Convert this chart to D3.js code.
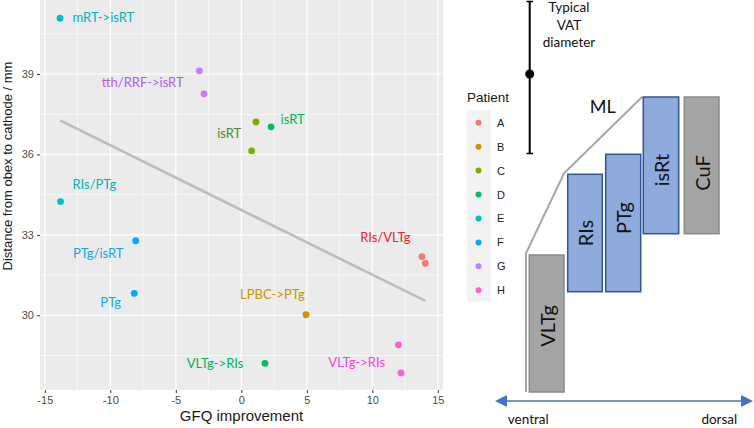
<!DOCTYPE html>
<html><head><meta charset="utf-8">
<script src="https://cdn.jsdelivr.net/npm/d3@7"></script>
<style>
body{margin:0;background:#fff;}
svg{display:block;}
</style></head>
<body>
<svg id="c" width="754" height="428"></svg>
<script>
// ---------- data ----------
const patients = ["A","A","B","C","C","D","D","E","E","F","F","G","G","H","H"];
const gfq      = [13.79,14.05,4.94,1.12,0.79,2.27,1.81,-13.84,-13.8,-8.06,-8.17,-3.2,-2.85,11.99,12.19];
const dist     = [32.19,31.94,30.02,37.21,36.13,37.03,28.21,41.08,34.24,32.78,30.82,39.12,38.26,28.9,27.85];

const labelText    = ["mRT->isRT","tth/RRF->isRT","isRT","isRT","RIs/PTg","PTg/isRT","PTg","VLTg->RIs","LPBC->PTg","RIs/VLTg","VLTg->RIs"];
const labelX       = [-10.53,-7.53,-0.92,3.92,-11.22,-10.92,-9.97,-2.0,2.37,10.99,8.81];
const labelY       = [41.12,38.71,36.81,37.33,34.89,32.34,30.49,28.23,30.81,32.91,28.25];
const labelPatient = ["E","G","C","D","E","F","F","D","B","A","H"];

const legendLevels = ["A","B","C","D","E","F","G","H"];
const xTicks = [-15,-10,-5,0,5,10,15];
const yTicks = [30,33,36,39];

const boxNames = ["VLTg","RIs","PTg","isRt","CuF"];
const vatLines = ["Typical","VAT","diameter"];

// ---------- styles ----------
const pointColor = {A:"#F8766D",B:"#CD9600",C:"#7CAE00",D:"#00BE67",E:"#00BFC4",F:"#00A9FF",G:"#C77CFF",H:"#FF61CC"};
const textColor  = {A:"#EE2228",B:"#C99400",C:"#4E8A2E",D:"#00B45A",E:"#00B3BB",F:"#12A6F0",G:"#B25CF5",H:"#F23FE6"};
const labelFont = "Lato, 'Open Sans', sans-serif";
const axisFont = "'Liberation Sans', Arial, sans-serif";

const svg = d3.select("#c");

// ---------- scatter panel ----------
const P = {l:40, r:443, t:0, b:390};
const x = d3.scaleLinear().domain([-15,15]).range([44.8,437.8]);
const y = d3.scaleLinear().domain([30,39]).range([315.3,74]);
const xMin = x.invert(P.l), xMax = x.invert(P.r);
const yMin = y.invert(P.b), yMax = y.invert(P.t);

svg.append("rect").attr("x",P.l).attr("y",P.t).attr("width",P.r-P.l).attr("height",P.b-P.t).attr("fill","#EBEBEB");

const g = svg.append("g");
// minor grid
const xMinor = d3.range(-17.5,17.6,5).filter(v=>v>xMin&&v<xMax);
const yMinor = d3.range(25.5,43,3).filter(v=>v>yMin&&v<yMax);
g.selectAll(".xm").data(xMinor).join("line").attr("x1",d=>x(d)).attr("x2",d=>x(d)).attr("y1",P.t).attr("y2",P.b).attr("stroke","#fff").attr("stroke-width",0.6);
g.selectAll(".ym").data(yMinor).join("line").attr("y1",d=>y(d)).attr("y2",d=>y(d)).attr("x1",P.l).attr("x2",P.r).attr("stroke","#fff").attr("stroke-width",0.6);
// major grid
g.selectAll(".xM").data(xTicks).join("line").attr("x1",d=>x(d)).attr("x2",d=>x(d)).attr("y1",P.t).attr("y2",P.b).attr("stroke","#fff").attr("stroke-width",1.2);
g.selectAll(".yM").data(yTicks).join("line").attr("y1",d=>y(d)).attr("y2",d=>y(d)).attr("x1",P.l).attr("x2",P.r).attr("stroke","#fff").attr("stroke-width",1.2);

// axes
const xAxis = d3.axisBottom(x).tickValues(xTicks).tickSize(3).tickPadding(3).tickFormat(d=>d<0?"-"+Math.abs(d):d);
const yAxis = d3.axisLeft(y).tickValues(yTicks).tickSize(3).tickPadding(3);
const gx = svg.append("g").attr("transform",`translate(0,${P.b})`).call(xAxis);
const gy = svg.append("g").attr("transform",`translate(${P.l},0)`).call(yAxis);
[gx,gy].forEach(a=>{
  a.select(".domain").remove();
  a.selectAll(".tick line").attr("stroke","#333");
  a.selectAll(".tick text").attr("fill","#4D4D4D").style("font-family",axisFont).style("font-size","11px");
});

svg.append("text").attr("x",241.5).attr("y",420.5).attr("text-anchor","middle")
  .style("font-family",axisFont).style("font-size","15px").attr("fill","#1a1a1a").text("GFQ improvement");
svg.append("text").attr("transform","translate(12,166) rotate(-90)").attr("text-anchor","middle")
  .style("font-family",axisFont).style("font-size","13px").attr("fill","#1a1a1a").text("Distance from obex to cathode / mm");

// regression line (least squares)
const mx = d3.mean(gfq), my = d3.mean(dist);
const sxy = d3.sum(gfq.map((v,i)=>(v-mx)*(dist[i]-my)));
const sxx = d3.sum(gfq.map(v=>(v-mx)*(v-mx)));
const slope = sxy/sxx, icpt = my - slope*mx;
const ex = d3.extent(gfq);
svg.append("line").attr("x1",x(ex[0])).attr("y1",y(icpt+slope*ex[0]))
  .attr("x2",x(ex[1])).attr("y2",y(icpt+slope*ex[1]))
  .attr("stroke","#BDBDBD").attr("stroke-width",2.6);

// points
svg.selectAll(".pt").data(gfq).join("circle")
  .attr("cx",(d)=>x(d)).attr("cy",(d,i)=>y(dist[i])).attr("r",3.4)
  .attr("fill",(d,i)=>pointColor[patients[i]]);

// labels
svg.selectAll(".lb").data(labelText).join("text")
  .attr("x",(d,i)=>x(labelX[i])).attr("y",(d,i)=>y(labelY[i]))
  .attr("text-anchor","middle").attr("dominant-baseline","central")
  .style("font-family",labelFont).style("font-size","13px")
  .attr("fill",(d,i)=>textColor[labelPatient[i]]).text(d=>d);

// ---------- legend ----------
svg.append("text").attr("x",467).attr("y",102).style("font-family",axisFont).style("font-size","13.5px").attr("fill","#1a1a1a").text("Patient");
svg.append("rect").attr("x",466.7).attr("y",110.5).attr("width",24).attr("height",191).attr("fill","#F2F2F2");
const ly = d3.scalePoint().domain(legendLevels).range([122.7,290.3]);
svg.selectAll(".lgd").data(legendLevels).join("circle").attr("cx",478.5).attr("cy",d=>ly(d)).attr("r",3).attr("fill",d=>pointColor[d]);
svg.selectAll(".lgt").data(legendLevels).join("text").attr("x",497).attr("y",d=>ly(d)).attr("dominant-baseline","central")
  .style("font-family",axisFont).style("font-size","11px").attr("fill","#1a1a1a").text(d=>d);

// ---------- schematic ----------
const sch = svg.append("g");
// VAT bar
sch.append("line").attr("x1",529.7).attr("x2",529.7).attr("y1",1.5).attr("y2",153.5).attr("stroke","#000").attr("stroke-width",2);
[1.5,153.5].forEach(v=>sch.append("line").attr("x1",526.5).attr("x2",533).attr("y1",v).attr("y2",v).attr("stroke","#000").attr("stroke-width",1.5));
sch.append("circle").attr("cx",529.7).attr("cy",74).attr("r",4.5).attr("fill","#000");
sch.selectAll(".vat").data(vatLines).join("text").attr("x",569).attr("y",(d,i)=>6.7+i*17.8).attr("text-anchor","middle").attr("dominant-baseline","central")
  .style("font-family",labelFont).style("font-size","13.5px").attr("fill","#111").text(d=>d);

// ML outline
sch.append("path").attr("d",d3.line()([[526,391.7],[526,253.3],[564,173.3],[642.3,96.7]]))
  .attr("fill","none").attr("stroke","#A6A6A6").attr("stroke-width",2);
sch.append("text").attr("x",602.7).attr("y",106).attr("text-anchor","middle").attr("dominant-baseline","central")
  .style("font-family",labelFont).style("font-size","18px").attr("fill","#111").text("ML");

// boxes
const boxGeom = [
  {x0:529.3,x1:564,y0:255,y1:392,grey:true,ty:326},
  {x0:567.7,x1:602.3,y0:174.3,y1:291.7,grey:false,ty:233},
  {x0:605.7,x1:640.7,y0:154.3,y1:291.7,grey:false,ty:218},
  {x0:643.3,x1:678.7,y0:97,y1:233.7,grey:false,ty:170},
  {x0:684.3,x1:719,y0:97,y1:233.7,grey:true,ty:173}
];
boxNames.forEach((name,i)=>{
  const b = boxGeom[i];
  sch.append("rect").attr("x",b.x0).attr("y",b.y0).attr("width",b.x1-b.x0).attr("height",b.y1-b.y0)
    .attr("fill",b.grey?"#A5A5A5":"#8FAADC").attr("stroke",b.grey?"#8A8A8A":"#2F5597").attr("stroke-width",1.5);
  sch.append("text").attr("transform",`translate(${(b.x0+b.x1)/2},${b.ty}) rotate(-90)`)
    .attr("text-anchor","middle").attr("dominant-baseline","central")
    .style("font-family",labelFont).style("font-size","20px").attr("fill","#111").text(name);
});

// arrow
const ac = "#4472C4";
sch.append("line").attr("x1",505).attr("x2",742).attr("y1",401).attr("y2",401).attr("stroke",ac).attr("stroke-width",1.5);
sch.append("path").attr("d","M495,401 L507,395 L507,407 Z").attr("fill",ac);
sch.append("path").attr("d","M753,401 L741,395 L741,407 Z").attr("fill",ac);
sch.append("text").attr("x",528.3).attr("y",419).attr("text-anchor","middle").attr("dominant-baseline","central")
  .style("font-family",labelFont).style("font-size","13.5px").attr("fill","#111").text("ventral");
sch.append("text").attr("x",719.3).attr("y",419).attr("text-anchor","middle").attr("dominant-baseline","central")
  .style("font-family",labelFont).style("font-size","13.5px").attr("fill","#111").text("dorsal");
</script>
</body></html>
